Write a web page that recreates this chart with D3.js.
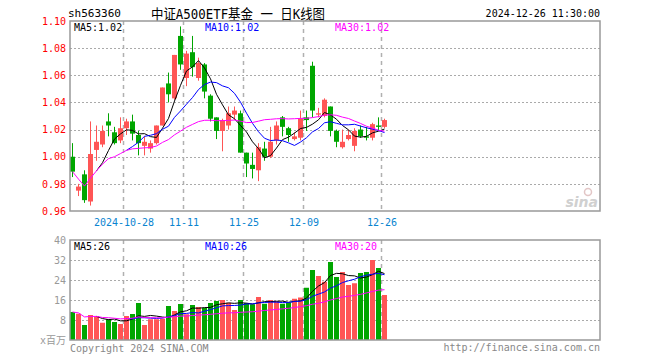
<!DOCTYPE html>
<html><head><meta charset="utf-8">
<script src="https://cdn.jsdelivr.net/npm/d3@7"></script>
<style>body{margin:0;background:#fff}svg{display:block}</style>
</head><body><svg id="c" width="660" height="360"></svg>
<script>
const dates = ["2024-10-15","2024-10-16","2024-10-17","2024-10-18","2024-10-21","2024-10-22","2024-10-23","2024-10-24","2024-10-25","2024-10-28",
"2024-10-29","2024-10-30","2024-10-31","2024-11-01","2024-11-04","2024-11-05","2024-11-06","2024-11-07","2024-11-08","2024-11-11",
"2024-11-12","2024-11-13","2024-11-14","2024-11-15","2024-11-18","2024-11-19","2024-11-20","2024-11-21","2024-11-22","2024-11-25",
"2024-11-26","2024-11-27","2024-11-28","2024-11-29","2024-12-02","2024-12-03","2024-12-04","2024-12-05","2024-12-06","2024-12-09",
"2024-12-10","2024-12-11","2024-12-12","2024-12-13","2024-12-16","2024-12-17","2024-12-18","2024-12-19","2024-12-20","2024-12-23",
"2024-12-24","2024-12-25","2024-12-26"];
const open  = [1.000,0.975,0.987,0.967,1.005,1.009,1.026,1.018,1.012,1.021,
               1.026,1.016,1.008,1.006,1.010,1.023,1.054,1.043,1.089,1.058,
               1.077,1.058,1.068,1.045,1.029,1.019,1.023,1.031,1.032,1.003,
               0.994,0.990,1.006,1.000,1.012,1.029,1.021,1.013,1.014,1.029,
               1.067,1.031,1.030,1.037,1.019,1.007,1.013,1.008,1.020,1.015,
               1.014,1.023,1.022];
const high  = [1.010,0.980,0.990,1.026,1.023,1.023,1.032,1.022,1.029,1.028,
               1.031,1.019,1.015,1.012,1.023,1.051,1.062,1.075,1.096,1.078,
               1.089,1.073,1.069,1.046,1.029,1.028,1.037,1.037,1.034,1.003,
               1.003,1.010,1.011,1.022,1.026,1.030,1.022,1.018,1.034,1.034,
               1.070,1.036,1.043,1.037,1.020,1.020,1.020,1.021,1.023,1.022,
               1.025,1.029,1.028];
const low   = [0.985,0.971,0.966,0.964,0.997,1.007,1.015,1.009,1.010,1.016,
               1.012,1.001,1.001,1.003,1.009,1.023,1.040,1.042,1.064,1.052,
               1.059,1.056,1.043,1.026,1.013,1.004,1.020,1.027,1.003,0.985,
               0.984,0.982,0.997,0.999,1.009,1.015,1.011,1.012,1.012,1.019,
               1.029,1.029,1.029,1.015,1.007,1.006,1.012,1.004,1.014,1.012,
               1.012,1.019,1.021];
const close = [0.989,0.978,0.968,1.002,1.011,1.019,1.023,1.010,1.021,1.026,
               1.017,1.010,1.011,1.010,1.023,1.051,1.046,1.075,1.068,1.076,
               1.066,1.069,1.048,1.028,1.019,1.027,1.032,1.034,1.003,0.995,
               0.991,1.007,1.000,1.011,1.023,1.022,1.016,1.015,1.028,1.027,
               1.034,1.032,1.042,1.019,1.011,1.011,1.016,1.019,1.015,1.014,
               1.024,1.022,1.027];
const volume = [11.2,10.5,6.0,10.0,9.5,6.9,8.3,7.2,6.4,9.6,
                10.4,14.8,6.0,8.3,8.3,8.5,13.6,11.6,14.4,10.3,
                14.0,13.2,12.9,14.8,15.6,16.0,14.9,12.0,16.0,14.8,
                14.3,17.2,14.5,16.0,15.5,14.5,14.9,16.5,17.0,20.9,
                28.0,25.6,23.3,31.2,25.2,27.2,22.0,22.7,26.8,27.2,
                32.0,28.8,18.0];
const priceTicks = [0.96,0.98,1.00,1.02,1.04,1.06,1.08,1.10];
const volTicks = [0,8,16,24,32,40];
const dateTicks = ["2024-10-28","2024-11-11","2024-11-25","2024-12-09","2024-12-26"];
const dateTickLabels = ["2024-10-28","11-11","11-25","12-09","12-26"];

const RED = "#ff5555", GREEN = "#00a600", GRID = "#aaaaaa", BORDER = "#999999";
const MONO = "'DejaVu Sans Mono','Liberation Mono',monospace";
const L = 70, R = 600, pT = 21, pB = 211, vT = 240, vB = 340;
const nSlots = 88;

const svg = d3.select("#c");
svg.append("rect").attr("width",660).attr("height",360).attr("fill","#fff");

const x = d3.scaleBand().domain(d3.range(nSlots)).range([L, L + 527]).paddingInner(1/6).paddingOuter(0);
const idx = d => dates.indexOf(d);
const cx = i => x(i) + x.bandwidth()/2;
const y = d3.scaleLinear().domain([0.96, 1.10]).range([pB, pT]);
const yv = d3.scaleLinear().domain([0, 40]).range([vB, vT]);

const data = dates.map((d,i)=>({i, d, o:open[i], h:high[i], l:low[i], c:close[i], v:volume[i]}));
const up = d => d.c >= d.o;

// header
svg.append("text").attr("x",68).attr("y",17).attr("font-family",MONO).attr("font-size",11).attr("fill","#000").text("sh563360");
svg.append("text").attr("x",151).attr("y",19).attr("font-family",MONO+",'Noto Sans CJK SC'").attr("font-size",14)
  .attr("textLength",174).attr("lengthAdjust","spacingAndGlyphs").attr("fill","#000").text("中证A500ETF基金 一 日K线图");
svg.append("text").attr("x",600).attr("y",17).attr("text-anchor","end").attr("font-family",MONO).attr("font-size",10).attr("fill","#000").text("2024-12-26 11:30:00");

// horizontal dotted grids
const pg = svg.append("g").attr("transform",`translate(${L},0)`)
  .call(d3.axisRight(y).tickValues(priceTicks.slice(1,-1)).tickSize(R-L).tickFormat(""));
pg.select(".domain").remove();
pg.selectAll("line").attr("stroke",GRID).attr("stroke-dasharray","2,2").attr("shape-rendering","crispEdges");
const vg = svg.append("g").attr("transform",`translate(${L},0)`)
  .call(d3.axisRight(yv).tickValues(volTicks.slice(1,-1)).tickSize(R-L).tickFormat(""));
vg.select(".domain").remove();
vg.selectAll("line").attr("stroke",GRID).attr("stroke-dasharray","2,2").attr("shape-rendering","crispEdges");

// vertical dashed date lines
const dg = svg.append("g");
dateTicks.forEach(t=>{
  const xx = Math.round(x(idx(t))) - 0.5;
  [[pT,pB],[vT,vB]].forEach(([a,b])=>{
    dg.append("line").attr("x1",xx).attr("x2",xx).attr("y1",a).attr("y2",b)
      .attr("stroke","#b0b0b0").attr("stroke-width",1.5).attr("stroke-dasharray","4,4");
  });
});

// price axis labels
const pa = svg.append("g").attr("transform",`translate(${L},0)`)
  .call(d3.axisLeft(y).tickValues(priceTicks).tickSize(0).tickPadding(4).tickFormat(d3.format(".2f")));
pa.select(".domain").remove();
pa.selectAll("text").attr("fill","#ff0000").attr("font-family",MONO).attr("font-size",10);

// volume axis labels
const va = svg.append("g").attr("transform",`translate(${L},0)`)
  .call(d3.axisLeft(yv).tickValues(volTicks).tickSize(0).tickPadding(4).tickFormat(d=> d===0 ? "x百万" : d));
va.select(".domain").remove();
va.selectAll("text").attr("fill","#999").attr("font-family",MONO+",'Noto Sans CJK SC'").attr("font-size",10);

// date labels
svg.append("g").selectAll("text").data(dateTicks).join("text")
  .attr("x",(t)=>x(idx(t))).attr("y",226).attr("text-anchor","middle")
  .attr("font-family",MONO).attr("font-size",10).attr("fill","#0a84d0")
  .text((t,k)=>dateTickLabels[k]);

// sina watermark
const wm = svg.append("g").attr("opacity",0.55);
wm.append("circle").attr("cx",588).attr("cy",192).attr("r",3.5).attr("fill","none").attr("stroke","#c99").attr("stroke-width",1.5);
wm.append("text").attr("x",598).attr("y",207).attr("text-anchor","end").attr("font-family","'DejaVu Sans',sans-serif")
  .attr("font-style","italic").attr("font-weight","bold").attr("font-size",14).attr("fill","#aaa").text("sina");

// candles
const cg = svg.append("g");
cg.selectAll("line.wick").data(data).join("line").attr("class","wick")
  .attr("x1",d=>Math.floor(cx(d.i))+0.5).attr("x2",d=>Math.floor(cx(d.i))+0.5)
  .attr("y1",d=>y(d.h)).attr("y2",d=>y(d.l))
  .attr("stroke",d=>up(d)?RED:GREEN).attr("stroke-width",1);
cg.selectAll("rect.body").data(data).join("rect").attr("class","body")
  .attr("x",d=>x(d.i)).attr("width",x.bandwidth())
  .attr("y",d=>y(Math.max(d.o,d.c)))
  .attr("height",d=>Math.max(1, Math.abs(y(d.o)-y(d.c))))
  .attr("fill",d=>up(d)?RED:GREEN);

// volume bars
svg.append("g").selectAll("rect").data(data).join("rect")
  .attr("x",d=>x(d.i)).attr("width",x.bandwidth())
  .attr("y",d=>yv(d.v)).attr("height",d=>vB - yv(d.v))
  .attr("fill",d=>up(d)?RED:GREEN);

// moving averages
function ma(arr, k, cumulative){
  const out = [];
  for(let i=0;i<arr.length;i++){
    if(i < k-1){
      if(cumulative) out.push({i, v: d3.mean(arr.slice(0,i+1))});
    } else out.push({i, v: d3.mean(arr.slice(i-k+1,i+1))});
  }
  return out;
}
const maDefs = [{k:5,color:"#000000",cum:false},{k:10,color:"#0000ff",cum:false},{k:30,color:"#ff00ff",cum:true}];
const pLine = d3.line().x(d=>cx(d.i)).y(d=>y(d.v));
const vLine = d3.line().x(d=>cx(d.i)).y(d=>yv(d.v));
const pMA = {}, vMA = {};
maDefs.forEach(m=>{
  pMA[m.k] = ma(close, m.k, m.cum);
  vMA[m.k] = ma(volume, m.k, m.cum);
  svg.append("path").attr("d",pLine(pMA[m.k])).attr("fill","none").attr("stroke",m.color).attr("stroke-width",1);
  svg.append("path").attr("d",vLine(vMA[m.k])).attr("fill","none").attr("stroke",m.color).attr("stroke-width",1);
});

// borders
[[pT,pB],[vT,vB]].forEach(([a,b])=>{
  svg.append("rect").attr("x",L).attr("y",a).attr("width",R-L).attr("height",b-a)
    .attr("fill","none").attr("stroke",BORDER).attr("stroke-width",1.5);
});

// MA legends
const maX = [74, 205, 335];
maDefs.forEach((m,j)=>{
  const pv = pMA[m.k][pMA[m.k].length-1].v, vv = vMA[m.k][vMA[m.k].length-1].v;
  svg.append("text").attr("x",maX[j]).attr("y",31).attr("font-family",MONO).attr("font-size",10).attr("fill",m.color)
    .text(`MA${m.k}:${pv.toFixed(2)}`);
  svg.append("text").attr("x",maX[j]).attr("y",250).attr("font-family",MONO).attr("font-size",10).attr("fill",m.color)
    .text(`MA${m.k}:${Math.floor(vv)}`);
});

// footer
svg.append("text").attr("x",70).attr("y",352).attr("font-family",MONO).attr("font-size",10).attr("fill","#888").text("Copyright 2024 SINA.COM");
svg.append("text").attr("x",600).attr("y",351).attr("text-anchor","end").attr("font-family",MONO).attr("font-size",10).attr("fill","#888").text("http://finance.sina.com.cn");
</script></body></html>
